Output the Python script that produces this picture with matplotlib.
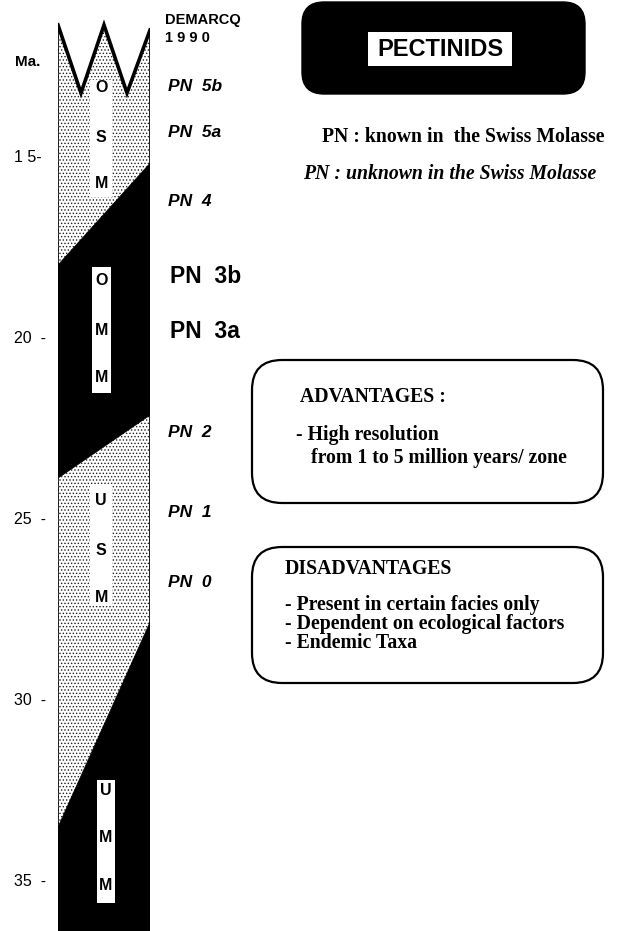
import matplotlib
matplotlib.use("Agg")
import matplotlib.pyplot as plt
from matplotlib.patches import Polygon, Rectangle, FancyBboxPatch

# time scale (Ma) and column geometry
ma_top, ma_bottom = 10.66, 36.38
zigzag_x = [0.0, 0.25, 0.5, 0.75, 1.0]
zigzag_ma = [11.35, 13.23, 11.35, 13.23, 11.49]

# facies boundaries (left edge Ma, right edge Ma)
osm_omm = (17.98, 15.17)
omm_usm = (23.87, 22.13)
usm_umm = (33.51, 27.85)

# unit labels in the column
units = ['OSM', 'OMM', 'USM', 'UMM']
unit_letter_ma = [[13.09, 14.45, 15.72],
                  [18.40, 19.78, 21.08],
                  [24.48, 25.86, 27.18],
                  [32.49, 33.81, 35.11]]
unit_strip_ma = [(12.87, 16.10), (18.04, 21.52), (24.06, 27.40), (32.21, 35.61)]
unit_strip_x = [(0.35, 0.59), (0.37, 0.58), (0.35, 0.59), (0.42, 0.62)]

# pectinid zones (Demarcq 1990)
pn_labels = ['PN  5b', 'PN  5a', 'PN  4', 'PN  3b', 'PN  3a', 'PN  2', 'PN  1', 'PN  0']
pn_ma = [13.04, 14.31, 16.24, 18.31, 19.83, 22.62, 24.83, 26.74]
pn_known = [False, False, False, True, True, False, False, False]

tick_ma = [15, 20, 25, 30, 35]
tick_labels = ['1 5-', '20  -', '25  -', '30  -', '35  -']

adv_title = 'ADVANTAGES :'
adv_lines = ['- High resolution', '   from 1 to 5 million years/ zone']
dis_title = 'DISADVANTAGES'
dis_lines = ['- Present in certain facies only',
             '- Dependent on ecological factors',
             '- Endemic Taxa']

SANS = 'Liberation Sans'
SERIF = 'Liberation Serif'
plt.rcParams['hatch.linewidth'] = 0.6

fig = plt.figure(figsize=(6.22, 9.31), dpi=100)

# background axes in pixel units for boxes and free text
bg = fig.add_axes([0, 0, 1, 1])
bg.set_xlim(0, 622)
bg.set_ylim(931, 0)
bg.axis('off')

# column axes: x 0..1 across the column, y in Ma
W = 622.0
ax = fig.add_axes([58 / W, 0, 92 / W, 1])
ax.set_xlim(0, 1)
ax.set_ylim(ma_bottom, ma_top)
ax.axis('off')
ax.patch.set_alpha(0)

# dotted background (molasse) with zigzag top
dot_pts = list(zip(zigzag_x, zigzag_ma)) + [(1, ma_bottom), (0, ma_bottom)]
ax.add_patch(Polygon(dot_pts, closed=True, facecolor='white', edgecolor='#202020',
                     hatch='.....', lw=0, zorder=1))

# black (marine) wedges
omm_pts = [(0, osm_omm[0]), (1, osm_omm[1]), (1, omm_usm[1]), (0, omm_usm[0])]
umm_pts = [(0, usm_umm[0]), (1, usm_umm[1]), (1, ma_bottom), (0, ma_bottom)]
for pts in (omm_pts, umm_pts):
    ax.add_patch(Polygon(pts, closed=True, facecolor='black', edgecolor='black',
                         lw=0.5, zorder=2))

# unit name strips
for name, letters_ma, (m0, m1), (x0, x1) in zip(units, unit_letter_ma,
                                                  unit_strip_ma, unit_strip_x):
    ax.add_patch(Rectangle((x0, m0), x1 - x0, m1 - m0, facecolor='white',
                           edgecolor='none', zorder=3))
    for ch, m in zip(name, letters_ma):
        ax.text((x0 + x1) / 2, m, ch, ha='center', va='center', fontsize=11.5,
                fontweight='bold', family=SANS, zorder=4)

# outline: zigzag and column sides
ax.plot(zigzag_x, zigzag_ma, color='black', lw=2.6, solid_joinstyle='miter', zorder=5)
ax.plot([0, 0], [zigzag_ma[0], ma_bottom], color='black', lw=1.2, zorder=5)
ax.plot([1, 1], [zigzag_ma[-1], ma_bottom], color='black', lw=1.2, zorder=5)

# age ticks
ytr = ax.get_yaxis_transform()
for m, lab in zip(tick_ma, tick_labels):
    ax.text(-0.48, m, lab, transform=ytr, ha='left', va='center', fontsize=11.5,
            family=SANS, clip_on=False)
ax.text(-0.47, 12.38, 'Ma.', transform=ytr, ha='left', va='center', fontsize=11,
        fontweight='heavy', family=SANS, clip_on=False)

# zone labels
for lab, m, known in zip(pn_labels, pn_ma, pn_known):
    if known:
        ax.text(1.22, m, lab, transform=ytr, ha='left', va='center', fontsize=16.5,
                fontweight='bold', family=SANS, clip_on=False)
    else:
        ax.text(1.20, m, lab, transform=ytr, ha='left', va='center', fontsize=12.5,
                fontweight='bold', fontstyle='italic', family=SANS, clip_on=False)

bg.text(165, 20, 'DEMARCQ', ha='left', va='center', fontsize=10.5,
        fontweight='bold', family=SANS)
bg.text(165, 38, '1 9 9 0', ha='left', va='center', fontsize=10.5,
        fontweight='bold', family=SANS)

# title box
bg.add_patch(FancyBboxPatch((317, 17), 253, 62, boxstyle='round,pad=15,rounding_size=22',
                            facecolor='black', edgecolor='black', lw=1))
bg.add_patch(Rectangle((368, 32), 144, 34, facecolor='white', edgecolor='none'))
bg.text(440, 50, 'PECTINIDS', ha='center', va='center', fontsize=17,
        fontweight='bold', family=SANS)

# legend text
FS = 14.2
bg.text(322, 137, 'PN : known in  the Swiss Molasse', ha='left', va='center',
        fontsize=FS, fontweight='bold', family=SERIF)
bg.text(303, 174, 'PN : unknown in the Swiss Molasse', ha='left', va='center',
        fontsize=FS, fontweight='bold', fontstyle='italic', family=SERIF)

# advantages / disadvantages boxes
for (x0, y0, x1, y1) in [(252, 360, 603, 503), (252, 547, 603, 683)]:
    bg.add_patch(FancyBboxPatch((x0 + 28, y0 + 28), x1 - x0 - 56, y1 - y0 - 56,
                                boxstyle='round,pad=28,rounding_size=30',
                                facecolor='none', edgecolor='black', lw=1.6))

bg.text(300, 397, adv_title, ha='left', va='center', fontsize=FS,
        fontweight='bold', family=SERIF)
for y, line in zip([435, 458], adv_lines):
    bg.text(296, y, line, ha='left', va='center', fontsize=FS,
            fontweight='bold', family=SERIF)

bg.text(285, 569, dis_title, ha='left', va='center', fontsize=FS,
        fontweight='bold', family=SERIF)
for y, line in zip([605, 624, 643], dis_lines):
    bg.text(285, y, line, ha='left', va='center', fontsize=FS,
            fontweight='bold', family=SERIF)

fig.savefig('out.png', dpi=100)
